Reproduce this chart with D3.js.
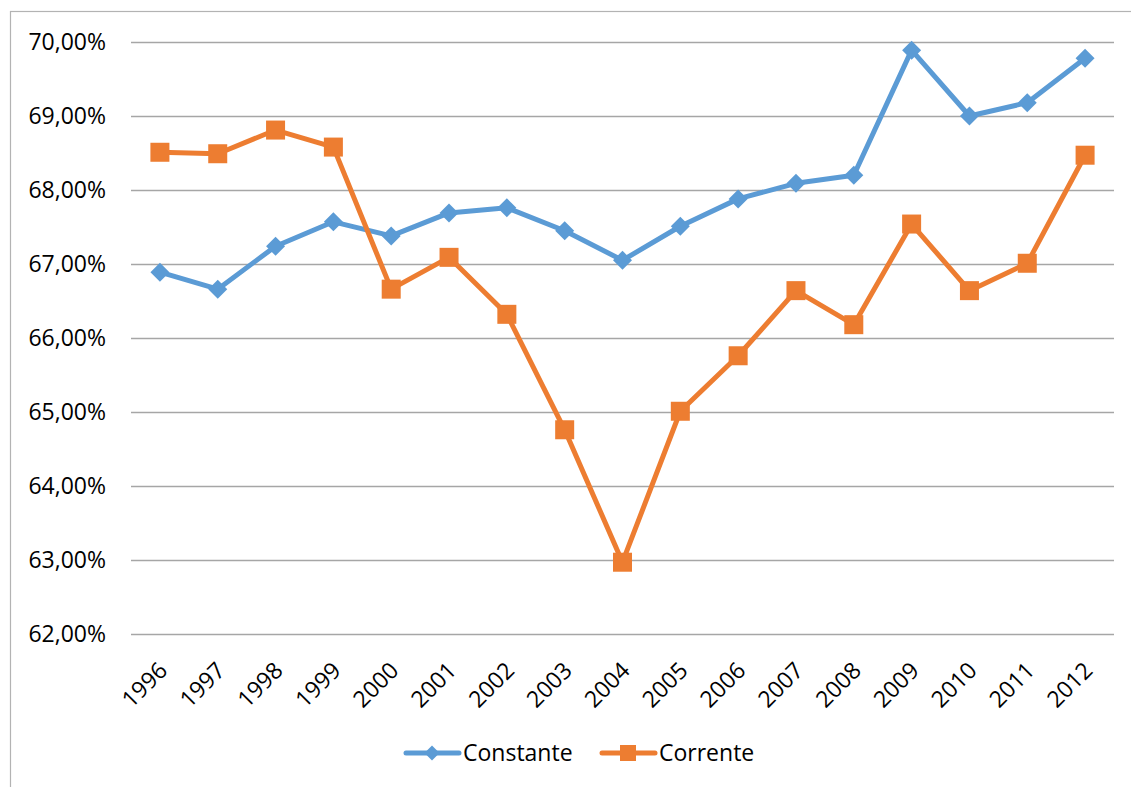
<!DOCTYPE html>
<html><head><meta charset="utf-8">
<script src="https://cdn.jsdelivr.net/npm/d3@7"></script>
<style>
html,body{margin:0;padding:0;background:#fff;}
svg{display:block;font-family:"Open Sans",sans-serif;}
</style></head>
<body>
<svg id="chart" width="1131" height="787"></svg>
<script>
const years = ["1996","1997","1998","1999","2000","2001","2002","2003","2004","2005","2006","2007","2008","2009","2010","2011","2012"];
const constante = [66.89,66.66,67.24,67.57,67.38,67.69,67.76,67.45,67.05,67.51,67.88,68.09,68.20,69.89,69.00,69.18,69.78];
const corrente = [68.51,68.49,68.81,68.58,66.66,67.09,66.32,64.76,62.97,65.01,65.76,66.64,66.18,67.54,66.64,67.01,68.47];
const yTicks = [62,63,64,65,66,67,68,69,70];
const seriesNames = ["Constante","Corrente"];
const seriesColors = ["#5B9BD5","#ED7D31"];

(function(){
const svg = d3.select("#chart");
const plotL = 131, plotR = 1114, plotT = 42, plotB = 634;

// outer border
svg.append("rect").attr("x",10.5).attr("y",11.5).attr("width",1140).attr("height",800)
  .attr("fill","none").attr("stroke","#b3b3b3").attr("stroke-width",1.2);

const x = d3.scaleBand().domain(years).range([plotL,plotR]);
const y = d3.scaleLinear().domain([62,70]).range([plotB,plotT]);
const cx = d => x(d) + x.bandwidth()/2;

// gridlines
svg.append("g").selectAll("line").data(yTicks).join("line")
  .attr("x1",plotL).attr("x2",plotR)
  .attr("y1",d=>Math.round(y(d))+0.5).attr("y2",d=>Math.round(y(d))+0.5)
  .attr("stroke","#a6a6a6").attr("stroke-width",1.3);

// y labels
const fmt = v => v.toFixed(2).replace(".",",") + "%";
svg.append("g").selectAll("text").data(yTicks).join("text")
  .attr("x",106).attr("y",d=>y(d)).attr("dy","0.36em")
  .attr("text-anchor","end").attr("font-size",23).attr("fill","#000")
  .text(fmt);

// x labels
svg.append("g").selectAll("text").data(years).join("text")
  .attr("transform",d=>`translate(${cx(d)+3},${666}) rotate(-45)`)
  .attr("text-anchor","end").attr("dy","0.36em")
  .attr("font-size",23).attr("fill","#000")
  .text(d=>d);

const line = d3.line().x((d,i)=>cx(years[i])).y(d=>y(d));
const data = [constante, corrente];

data.forEach((vals,si)=>{
  svg.append("path").datum(vals).attr("d",line)
    .attr("fill","none").attr("stroke",seriesColors[si]).attr("stroke-width",5)
    .attr("stroke-linejoin","round").attr("stroke-linecap","round");
});

// markers
const diamond = (s)=>`M0,${-s}L${s},0L0,${s}L${-s},0Z`;
svg.append("g").selectAll("path").data(constante).join("path")
  .attr("transform",(d,i)=>`translate(${cx(years[i])},${y(d)})`)
  .attr("d",diamond(9.5)).attr("fill",seriesColors[0]);
svg.append("g").selectAll("rect").data(corrente).join("rect")
  .attr("x",(d,i)=>cx(years[i])-9.5).attr("y",d=>y(d)-9.5)
  .attr("width",19).attr("height",19).attr("fill",seriesColors[1]);

// legend
const legendX = [404, 600];
const lg = svg.append("g");
seriesNames.forEach((name,i)=>{
  const lx = legendX[i], ly = 753;
  lg.append("line").attr("x1",lx+2).attr("x2",lx+55).attr("y1",ly).attr("y2",ly)
    .attr("stroke",seriesColors[i]).attr("stroke-width",5).attr("stroke-linecap","round");
  if(i===0){
    lg.append("path").attr("transform",`translate(${lx+28},${ly})`).attr("d",diamond(7.5)).attr("fill",seriesColors[i]);
  } else {
    lg.append("rect").attr("x",lx+28-8).attr("y",ly-8).attr("width",16).attr("height",16).attr("fill",seriesColors[i]);
  }
  lg.append("text").attr("x",lx+59).attr("y",ly).attr("dy","0.36em")
    .attr("font-size",23).attr("fill","#000").text(name);
});
})();
</script>
</body></html>
